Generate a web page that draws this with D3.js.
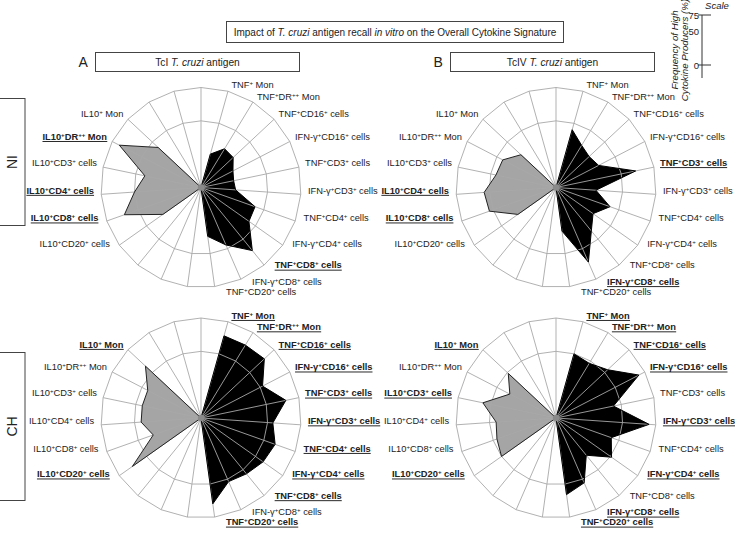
<!DOCTYPE html>
<html><head><meta charset="utf-8">
<script src="https://cdn.jsdelivr.net/npm/d3@7"></script>
<style>
body{margin:0;background:#fff}
text{font-family:"Liberation Sans",Arial,Helvetica,sans-serif;fill:#222}
</style>
</head><body>
<svg id="chart" width="735" height="538"></svg>
<script>
// ---------- data ----------
const spokeCount = 23;
const tnfCategories = ["TNF+ Mon","TNF+DR++ Mon","TNF+CD16+ cells","IFN-γ+CD16+ cells","TNF+CD3+ cells","IFN-γ+CD3+ cells","TNF+CD4+ cells","IFN-γ+CD4+ cells","TNF+CD8+ cells","IFN-γ+CD8+ cells","TNF+CD20+ cells"];
const tnfSpokes = [1,2,3,4,5,6,7,8,9,10,11];
const il10Categories = ["IL10+CD20+ cells","IL10+CD8+ cells","IL10+CD4+ cells","IL10+CD3+ cells","IL10+DR++ Mon","IL10+ Mon"];
const il10Spokes = [15,16,17,18,19,20];

const antigens = ["TcI", "TcIV"];
const panelLetters = ["A", "B"];
const groups = ["NI", "CH"];

const tnf_TcI_NI  = [26, 34, 33, 27, 25, 26, 43, 44, 61, 47, 37];
const il10_TcI_NI = [35, 61, 50, 43, 69, 44];
const tnf_TcIV_NI  = [45, 37, 34, 36, 61, 30, 43, 34, 42, 61, 33];
const il10_TcIV_NI = [35, 53, 54, 46, 45, 36];
const tnf_TcI_CH  = [64, 64, 65, 52, 65, 54, 59, 57, 54, 52, 65];
const il10_TcI_CH = [63, 38, 45, 45, 45, 57];
const tnf_TcIV_CH  = [50, 48, 53, 70, 44, 70, 44, 51, 36, 53, 58];
const il10_TcIV_CH = [50, 47, 45, 56, 39, 49];

const sig_TcI_NI = ["IL10+DR++ Mon","IL10+CD4+ cells","IL10+CD8+ cells","TNF+CD8+ cells"];
const sig_TcIV_NI = ["TNF+CD3+ cells","IL10+CD4+ cells","IL10+CD8+ cells","IFN-γ+CD8+ cells"];
const sig_TcI_CH = ["TNF+ Mon","TNF+DR++ Mon","TNF+CD16+ cells","IFN-γ+CD16+ cells","TNF+CD3+ cells","IFN-γ+CD3+ cells","TNF+CD4+ cells","IFN-γ+CD4+ cells","TNF+CD8+ cells","TNF+CD20+ cells","IL10+ Mon","IL10+CD20+ cells"];
const sig_TcIV_CH = ["TNF+ Mon","TNF+DR++ Mon","TNF+CD16+ cells","IFN-γ+CD16+ cells","IFN-γ+CD3+ cells","IFN-γ+CD4+ cells","IFN-γ+CD8+ cells","TNF+CD20+ cells","IL10+ Mon","IL10+CD3+ cells","IL10+CD20+ cells"];

const gridValues = [50, 75];
const scaleTicks = [0, 50, 75];
const scaleEndTicks = [0, 75];

const titleParts = [["Impact of ",false],["T. cruzi",true],[" antigen recall ",false],["in vitro",true],[" on the Overall Cytokine Signature",false]];

// ---------- layout ----------
const svg = d3.select("#chart");
const R = 100;
const centersX = [201, 556];
const centersY = [187.5, 418];
const rScale = d3.scaleLinear().domain([0, 75]).range([0, R]);
const spokeAngle = k => k * 2 * Math.PI / spokeCount;
const deg = d => d * Math.PI / 180;

const radarData = {
  "TcI|NI": {tnf: tnf_TcI_NI, il10: il10_TcI_NI, sig: sig_TcI_NI},
  "TcIV|NI": {tnf: tnf_TcIV_NI, il10: il10_TcIV_NI, sig: sig_TcIV_NI},
  "TcI|CH": {tnf: tnf_TcI_CH, il10: il10_TcI_CH, sig: sig_TcI_CH},
  "TcIV|CH": {tnf: tnf_TcIV_CH, il10: il10_TcIV_CH, sig: sig_TcIV_CH}
};

function richText(sel, str, fs) {
  const parts = str.split(/(\++)/).filter(s => s.length);
  let sup = false;
  const sh = fs * 0.32;
  parts.forEach(p => {
    if (/^\++$/.test(p)) {
      sel.append("tspan").attr("dy", sup ? 0 : -sh).attr("font-size", fs*0.66).text(p);
      sup = true;
    } else {
      sel.append("tspan").attr("dy", sup ? sh : 0).attr("font-size", fs).text(p);
      sup = false;
    }
  });
}

const radial = d3.lineRadial().angle(d => d.a).radius(d => rScale(d.v)).curve(d3.curveLinearClosed);

groups.forEach((grp, gi) => {
  antigens.forEach((ag, ai) => {
    const d = radarData[ag + "|" + grp];
    const g = svg.append("g").attr("transform", `translate(${centersX[ai]},${centersY[gi]})`);
    const ringPts = v => d3.range(spokeCount).map(k => ({a: spokeAngle(k), v}));
    const tnfPts = [{a: 0, v: 0}].concat(tnfSpokes.map((k, i) => ({a: spokeAngle(k), v: d.tnf[i]}))).concat([{a: spokeAngle(12), v: 0}]);
    const ilPts = [{a: spokeAngle(14), v: 0}].concat(il10Spokes.map((k, i) => ({a: spokeAngle(k), v: d.il10[i]}))).concat([{a: spokeAngle(21), v: 0}]);
    g.append("path").attr("d", radial(tnfPts)).attr("fill", "#000");
    g.append("path").attr("d", radial(ilPts)).attr("fill", "#a5a5a5");
    d3.range(spokeCount).forEach(k => {
      const a = spokeAngle(k);
      g.append("line").attr("x1", 0).attr("y1", 0)
        .attr("x2", rScale(75) * Math.sin(a)).attr("y2", -rScale(75) * Math.cos(a))
        .attr("stroke", "#a8a8a8").attr("stroke-width", 0.9);
    });
    gridValues.forEach(v => {
      g.append("path").attr("d", radial(ringPts(v))).attr("fill", "none")
        .attr("stroke", "#a8a8a8").attr("stroke-width", 0.9);
    });
    g.append("path").attr("d", radial(tnfPts)).attr("fill", "none").attr("stroke", "#000").attr("stroke-width", 1);
    g.append("path").attr("d", radial(ilPts)).attr("fill", "none").attr("stroke", "#222").attr("stroke-width", 1);
    g.append("circle").attr("r", 3.2).attr("fill", "#8a8a8a");

    const fs = 9.3;
    const labR = 107;
    const addLabel = (name, angDeg, anchor) => {
      const a = deg(angDeg);
      const bold = d.sig.includes(name);
      const t = g.append("text")
        .attr("x", labR * Math.sin(a)).attr("y", -labR * Math.cos(a) + fs*0.35)
        .attr("text-anchor", anchor)
        .attr("font-weight", bold ? "bold" : "normal")
        .attr("fill", bold ? "#111" : "#333");
      richText(t, name, fs);
      if (bold) {
        const bb = t.node().getBBox();
        const yb = -labR * Math.cos(a) + fs*0.35 + 1.8;
        g.append("line").attr("x1", bb.x).attr("x2", bb.x + bb.width)
          .attr("y1", yb).attr("y2", yb).attr("stroke", "#111").attr("stroke-width", 0.9);
      }
    };
    tnfCategories.forEach((c, i) => addLabel(c, 15 * (i + 1) + 1.5, "start"));
    il10Categories.forEach((c, j) => addLabel(c, 238.5 + 15 * j, "end"));
  });
});

// ---------- title box ----------
svg.append("rect").attr("x", 226.5).attr("y", 21.5).attr("width", 337).attr("height", 21)
  .attr("fill", "#fff").attr("stroke", "#444").attr("stroke-width", 1);
const tt = svg.append("text").attr("x", 395).attr("y", 35.5).attr("text-anchor", "middle").attr("font-size", 10);
titleParts.forEach(p => tt.append("tspan").attr("font-style", p[1] ? "italic" : "normal").text(p[0]));

// ---------- panel headers ----------
const panelBoxX = [95.5, 450.5];
antigens.forEach((ag, ai) => {
  svg.append("text").attr("x", panelBoxX[ai] - 17).attr("y", 67).attr("font-size", 14).attr("fill", "#222").text(panelLetters[ai]);
  svg.append("rect").attr("x", panelBoxX[ai]).attr("y", 52.5).attr("width", 204).attr("height", 19)
    .attr("fill", "#fff").attr("stroke", "#444").attr("stroke-width", 1);
  const t = svg.append("text").attr("x", panelBoxX[ai] + 102).attr("y", 65.5).attr("text-anchor", "middle").attr("font-size", 10.2);
  t.append("tspan").text(ag + " ");
  t.append("tspan").attr("font-style", "italic").text("T. cruzi");
  t.append("tspan").text(" antigen");
});

// ---------- row labels ----------
const rowBoxY = [[98.5, 225.5], [352.5, 500.5]];
groups.forEach((grp, gi) => {
  const [y0, y1] = rowBoxY[gi];
  svg.append("rect").attr("x", -1).attr("y", y0).attr("width", 26).attr("height", y1 - y0)
    .attr("fill", "#fff").attr("stroke", "#444").attr("stroke-width", 1);
  svg.append("text").attr("transform", `translate(17,${(y0 + y1) / 2}) rotate(-90)`)
    .attr("text-anchor", "middle").attr("font-size", 14).text(grp);
});

// ---------- scale ----------
const sScale = d3.scaleLinear().domain([0, 75]).range([65, 15]);
const axX = 702;
svg.append("line").attr("x1", axX).attr("x2", axX).attr("y1", sScale(75)).attr("y2", sScale(0) + 13)
  .attr("stroke", "#333").attr("stroke-width", 1);
scaleEndTicks.forEach(v => {
  svg.append("line").attr("x1", axX - 4).attr("x2", axX + 9).attr("y1", sScale(v)).attr("y2", sScale(v))
    .attr("stroke", "#333").attr("stroke-width", 1);
});
scaleTicks.forEach(v => {
  svg.append("text").attr("x", axX - 3).attr("y", sScale(v) + 3.5).attr("text-anchor", "end")
    .attr("font-size", 9.5).text(v);
});
svg.append("text").attr("x", 717).attr("y", 9).attr("text-anchor", "middle").attr("font-size", 9.5)
  .attr("font-style", "italic").text("Scale");
svg.append("text").attr("transform", "translate(678,50) rotate(-90)").attr("text-anchor", "middle")
  .attr("font-size", 9.7).attr("font-style", "italic").text("Frequency of High");
svg.append("text").attr("transform", "translate(688,50) rotate(-90)").attr("text-anchor", "middle")
  .attr("font-size", 9.7).attr("font-style", "italic").text("Cytokine Producers (%)");
</script>
</body></html>
